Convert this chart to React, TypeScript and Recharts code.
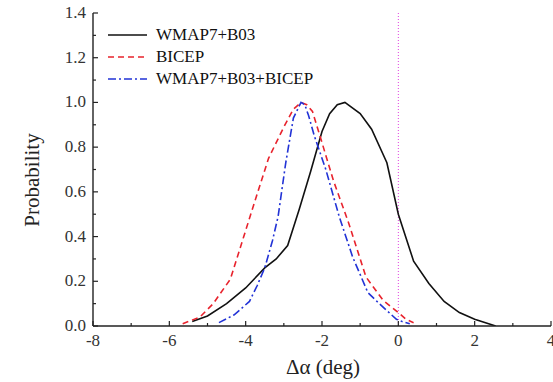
import { LineChart, Line, XAxis, YAxis, ReferenceLine, Legend } from 'recharts';

// WMAP7+B03 (black solid)
const wmapX = [-5.4, -5.0, -4.5, -4.0, -3.5, -3.2, -2.9, -2.6, -2.3, -2.0, -1.8, -1.6, -1.4, -1.0, -0.7, -0.3, 0.0, 0.4, 0.8, 1.2, 1.6, 2.0, 2.55];
const wmapY = [0.02, 0.045, 0.1, 0.17, 0.26, 0.3, 0.36, 0.52, 0.69, 0.87, 0.95, 0.99, 1.0, 0.95, 0.88, 0.73, 0.5, 0.29, 0.19, 0.11, 0.06, 0.03, 0.0];

// BICEP (red dashed)
const bicepX = [-5.65, -5.2, -4.85, -4.4, -4.05, -3.7, -3.4, -3.0, -2.75, -2.55, -2.4, -2.25, -2.0, -1.7, -1.3, -0.85, -0.4, 0.0, 0.2, 0.4];
const bicepY = [0.01, 0.04, 0.1, 0.21, 0.4, 0.59, 0.75, 0.89, 0.97, 1.0, 0.99, 0.96, 0.82, 0.65, 0.46, 0.22, 0.115, 0.06, 0.03, 0.015];

// WMAP7+B03+BICEP (blue dash-dot)
const combX = [-4.7, -4.3, -3.9, -3.7, -3.5, -3.3, -3.15, -2.95, -2.75, -2.55, -2.45, -2.35, -2.2, -1.9, -1.55, -1.2, -0.8, -0.5, -0.05, 0.1, 0.3];
const combY = [0.015, 0.05, 0.11, 0.18, 0.26, 0.38, 0.49, 0.73, 0.93, 1.0, 0.99, 0.94, 0.85, 0.7, 0.49, 0.31, 0.15, 0.1, 0.03, 0.02, 0.01];

const xTicks = [-8, -7, -6, -5, -4, -3, -2, -1, 0, 1, 2, 3, 4];
const yTicks = [0, 0.1, 0.2, 0.3, 0.4, 0.5, 0.6, 0.7, 0.8, 0.9, 1.0, 1.1, 1.2, 1.3, 1.4];

const zip = (xs: number[], ys: number[]) => xs.map((x, i) => ({ x, y: ys[i] }));

const series = [
  { name: 'WMAP7+B03', data: zip(wmapX, wmapY), color: '#111111', dash: undefined as string | undefined },
  { name: 'BICEP', data: zip(bicepX, bicepY), color: '#e8232d', dash: '6 4' },
  { name: 'WMAP7+B03+BICEP', data: zip(combX, combY), color: '#2233d6', dash: '8 3 2 3' },
];

const FONT = '"Liberation Serif", "Times New Roman", serif';
const AXIS = '#222222';
const MAJOR = 5;
const MINOR = 3;

const isMajorX = (v: number) => Math.round(v) % 2 === 0;
const isMajorY = (v: number) => Math.round(v * 10) % 2 === 0;

const labelStyle = { fontFamily: FONT, fontSize: 17, fill: '#333' };

function BottomTick(props: any) {
  const { x, y, payload } = props;
  const major = isMajorX(payload.value);
  return (
    <g>
      <line x1={x} x2={x} y1={y} y2={y - (major ? MAJOR : MINOR)} stroke={AXIS} strokeWidth={1.2} />
      {major && (
        <text x={x} y={y + 20} textAnchor="middle" style={labelStyle}>
          {payload.value}
        </text>
      )}
    </g>
  );
}

function TopTick(props: any) {
  const { x, y, payload } = props;
  const major = isMajorX(payload.value);
  return <line x1={x} x2={x} y1={y} y2={y + (major ? MAJOR : MINOR)} stroke={AXIS} strokeWidth={1.2} />;
}

function LeftTick(props: any) {
  const { x, y, payload } = props;
  const major = isMajorY(payload.value);
  return (
    <g>
      <line x1={x} x2={x + (major ? MAJOR : MINOR)} y1={y} y2={y} stroke={AXIS} strokeWidth={1.2} />
      {major && (
        <text x={x - 7} y={y + 5} textAnchor="end" style={labelStyle}>
          {Number(payload.value).toFixed(1)}
        </text>
      )}
    </g>
  );
}

function RightTick(props: any) {
  const { x, y, payload } = props;
  const major = isMajorY(payload.value);
  return <line x1={x} x2={x - (major ? MAJOR : MINOR)} y1={y} y2={y} stroke={AXIS} strokeWidth={1.2} />;
}

function LegendBox() {
  return (
    <div style={{ fontFamily: FONT, fontSize: 17, color: '#111' }}>
      {series.map((s) => (
        <div key={s.name} style={{ display: 'flex', alignItems: 'center', height: 22 }}>
          <svg width={48} height={10} style={{ display: 'block' }}>
            <line x1={0} x2={39} y1={5} y2={5} stroke={s.color} strokeWidth={1.6} strokeDasharray={s.dash} />
          </svg>
          <span style={{ lineHeight: '22px' }}>{s.name}</span>
        </div>
      ))}
    </div>
  );
}

export default function App() {
  return (
    <div style={{ position: 'absolute', left: 0, top: 0, width: 553, height: 382, background: '#fff' }}>
      <LineChart width={553} height={382} margin={{ top: 13, right: 2, bottom: 26, left: 43 }}>
        <XAxis
          xAxisId="b"
          type="number"
          dataKey="x"
          domain={[-8, 4]}
          ticks={xTicks}
          interval={0}
          allowDataOverflow
          height={30}
          tickSize={0}
          tickMargin={0}
          tickLine={false}
          tick={BottomTick}
          axisLine={{ stroke: AXIS, strokeWidth: 1.4 }}
          label={{
            content: () => (
              <text x={323} y={374} textAnchor="middle" style={{ fontFamily: FONT, fontSize: 21, fill: '#222' }}>
                Δα (deg)
              </text>
            ),
          }}
        />
        <XAxis
          xAxisId="t"
          orientation="top"
          type="number"
          dataKey="x"
          domain={[-8, 4]}
          ticks={xTicks}
          interval={0}
          allowDataOverflow
          height={0}
          tickSize={0}
          tickMargin={0}
          tickLine={false}
          tick={TopTick}
          axisLine={{ stroke: AXIS, strokeWidth: 1.4 }}
        />
        <YAxis
          yAxisId="l"
          type="number"
          domain={[0, 1.4]}
          ticks={yTicks}
          interval={0}
          allowDataOverflow
          width={50}
          tickSize={0}
          tickMargin={0}
          tickLine={false}
          tick={LeftTick}
          axisLine={{ stroke: AXIS, strokeWidth: 1.4 }}
          label={{
            content: () => (
              <text
                x={39}
                y={180}
                textAnchor="middle"
                style={{ fontFamily: FONT, fontSize: 21, fill: '#222' }}
                transform="rotate(-90, 39, 180)"
              >
                Probability
              </text>
            ),
          }}
        />
        <YAxis
          yAxisId="r"
          orientation="right"
          type="number"
          domain={[0, 1.4]}
          ticks={yTicks}
          interval={0}
          allowDataOverflow
          width={0}
          tickSize={0}
          tickMargin={0}
          tickLine={false}
          tick={RightTick}
          axisLine={{ stroke: AXIS, strokeWidth: 1.4 }}
        />
        <ReferenceLine xAxisId="b" yAxisId="l" x={0} stroke="#e040e0" strokeWidth={1} strokeDasharray="1 2" />
        {series.map((s) => (
          <Line
            key={s.name}
            xAxisId="b"
            yAxisId="l"
            data={s.data}
            dataKey="y"
            name={s.name}
            type="linear"
            stroke={s.color}
            strokeWidth={1.6}
            strokeDasharray={s.dash}
            dot={false}
            activeDot={false}
            isAnimationActive={false}
          />
        ))}
        <Legend
          layout="horizontal"
          align="center"
          verticalAlign="middle"
          content={LegendBox}
          wrapperStyle={{ position: 'absolute', left: 108, top: 24, width: 'auto' }}
        />
      </LineChart>
    </div>
  );
}
